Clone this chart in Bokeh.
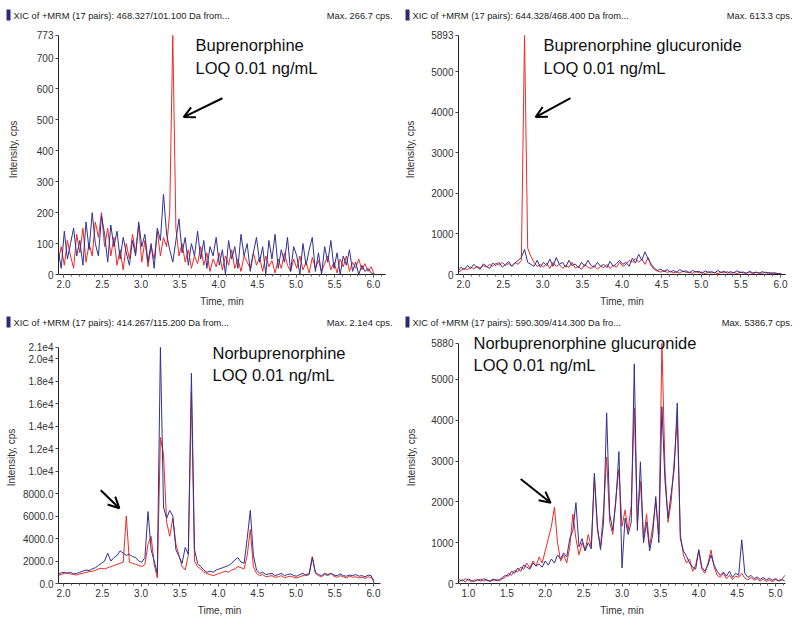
from bokeh.plotting import figure
from bokeh.models import (FixedTicker, SingleIntervalTicker, Label, Arrow, OpenHead,
                          Range1d, BoxAnnotation, NumeralTickFormatter)
from bokeh.layouts import column, row
from bokeh.embed import file_html
from bokeh.resources import INLINE

# ---------------- data ----------------
TIME_A = [1.93, 1.97, 2.01, 2.05, 2.09, 2.13, 2.17, 2.21, 2.25, 2.29,
          2.33, 2.37, 2.41, 2.45, 2.49, 2.53, 2.57, 2.61, 2.65, 2.69,
          2.73, 2.77, 2.81, 2.85, 2.89, 2.93, 2.97, 3.01, 3.05, 3.09,
          3.13, 3.17, 3.21, 3.25, 3.29, 3.33, 3.37, 3.41, 3.45, 3.49,
          3.53, 3.57, 3.61, 3.65, 3.69, 3.73, 3.77, 3.81, 3.85, 3.89,
          3.93, 3.97, 4.01, 4.05, 4.09, 4.13, 4.17, 4.21, 4.25, 4.29,
          4.33, 4.37, 4.41, 4.45, 4.49, 4.53, 4.57, 4.61, 4.65, 4.69,
          4.73, 4.77, 4.81, 4.85, 4.89, 4.93, 4.97, 5.01, 5.05, 5.09,
          5.13, 5.17, 5.21, 5.25, 5.29, 5.33, 5.37, 5.41, 5.45, 5.49,
          5.53, 5.57, 5.61, 5.65, 5.69, 5.73, 5.77, 5.81, 5.85, 5.89,
          5.93, 5.97, 6.01]

TIME_B = [0.88, 0.92, 0.96, 1.00, 1.04, 1.08, 1.12, 1.16, 1.20, 1.24,
          1.28, 1.32, 1.36, 1.40, 1.44, 1.48, 1.52, 1.56, 1.60, 1.64,
          1.68, 1.72, 1.76, 1.80, 1.84, 1.88, 1.92, 1.96, 2.00, 2.04,
          2.08, 2.12, 2.16, 2.20, 2.24, 2.28, 2.32, 2.36, 2.40, 2.44,
          2.48, 2.52, 2.56, 2.60, 2.64, 2.68, 2.72, 2.76, 2.80, 2.84,
          2.88, 2.92, 2.96, 3.00, 3.04, 3.08, 3.12, 3.16, 3.20, 3.24,
          3.28, 3.32, 3.36, 3.40, 3.44, 3.48, 3.52, 3.56, 3.60, 3.64,
          3.68, 3.72, 3.76, 3.80, 3.84, 3.88, 3.92, 3.96, 4.00, 4.04,
          4.08, 4.12, 4.16, 4.20, 4.24, 4.28, 4.32, 4.36, 4.40, 4.44,
          4.48, 4.52, 4.56, 4.60, 4.64, 4.68, 4.72, 4.76, 4.80, 4.84,
          4.88, 4.92, 4.96, 5.00, 5.04, 5.08, 5.12]

BUP_RED = [40, 90, 30, 110, 60, 20, 130, 70, 150, 40,
           100, 60, 170, 120, 200, 90, 150, 60, 120, 30,
           80, 15, 100, 50, 130, 70, 160, 40, 110, 25,
           90, 50, 140, 60, 120, 90, 200, 773, 150, 60,
           100, 40, 80, 20, 60, 35, 90, 30, 70, 10,
           50, 25, 70, 15, 60, 30, 80, 20, 50, 10,
           60, 40, 20, 70, 30, 55, 10, 60, 25, 45,
           5, 50, 20, 70, 30, 10, 50, 20, 60, 15,
           40, 5, 55, 20, 45, 10, 35, 60, 15, 40,
           5, 50, 25, 60, 10, 40, 20, 50, 15, 35,
           10, 25, 0]
BUP_BLUE = [80, 20, 140, 50, 100, 150, 60, 110, 30, 170,
            80, 200, 100, 60, 190, 130, 40, 160, 90, 140,
            50, 120, 70, 30, 110, 60, 170, 90, 130, 40,
            100, 20, 150, 110, 260, 130, 80, 40, 110, 180,
            70, 120, 30, 100, 60, 140, 50, 110, 20, 90,
            60, 120, 30, 80, 0, 110, 50, 90, 20, 130,
            60, 100, 10, 70, 120, 40, 90, 0, 110, 50,
            130, 20, 80, 40, 120, 10, 90, 60, 0, 100,
            30, 80, 120, 10, 70, 0, 90, 40, 110, 20,
            70, 0, 60, 30, 80, 10, 40, 0, 30, 10,
            20, 5, 0]

BUPG_RED = [50, 100, 150, 120, 180, 140, 200, 160, 220, 180,
            250, 200, 280, 230, 300, 220, 270, 210, 300, 250,
            350, 5893, 650, 450, 300, 200, 250, 180, 280, 150,
            300, 200, 250, 150, 220, 180, 300, 160, 200, 120,
            250, 180, 150, 220, 130, 200, 170, 250, 150, 230,
            180, 300, 200, 250, 350, 300, 400, 300, 380, 250,
            420, 200, 120, 80, 60, 100, 50, 80, 40, 70,
            30, 90, 50, 60, 30, 80, 40, 60, 20, 70,
            40, 50, 20, 60, 40, 70, 30, 50, 20, 60,
            40, 30, 60, 20, 50, 40, 30, 60, 20, 40,
            30, 20, 10]
BUPG_BLUE = [80, 180, 120, 220, 150, 250, 180, 130, 260, 200,
             150, 280, 220, 300, 180, 250, 320, 200, 280, 350,
             420, 620, 300, 250, 200, 350, 180, 300, 220, 380,
             200, 420, 250, 300, 180, 350, 220, 260, 170, 300,
             200, 350, 220, 180, 300, 200, 250, 170, 320, 200,
             270, 350, 250, 300, 200, 400, 280, 500, 350, 560,
             380, 250, 150, 100, 130, 70, 120, 60, 100, 50,
             120, 70, 90, 40, 100, 60, 80, 30, 90, 50,
             70, 40, 100, 50, 80, 30, 70, 40, 90, 50,
             60, 30, 80, 40, 60, 30, 70, 40, 50, 30,
             40, 20, 20]

NOR_RED = [700, 800, 900, 950, 850, 800, 750, 850, 900, 1000,
           1050, 1100, 1150, 1300, 1350, 1300, 1400, 1500, 1600, 1700,
           1800, 1900, 6000, 1900, 1800, 1700, 1600, 1500, 1700, 3500,
           4200, 1700, 500, 13000, 11500, 5500, 4200, 5800, 3500, 2500,
           1500, 1200, 2500, 17000, 2000, 1500, 1300, 1000, 900, 800,
           700, 800, 900, 1000, 1100, 1000, 1200, 1300, 1500, 1400,
           1300, 2500, 4800, 1500, 900, 700, 800, 600, 650, 700,
           550, 600, 700, 500, 600, 650, 550, 500, 600, 700,
           800, 900, 2400, 900, 700, 600, 800, 700, 900, 650,
           550, 700, 600, 500, 650, 550, 600, 500, 550, 450,
           600, 500, 300]
NOR_BLUE = [800, 950, 1000, 900, 1000, 850, 900, 1000, 1100, 1200,
            1150, 1300, 1400, 1600, 1800, 2000, 2700, 2000, 2300, 2500,
            2900, 2700, 2500, 2600, 2400, 2300, 2000, 1900, 2300, 6400,
            3000, 2000, 900, 21000, 6800, 5800, 6500, 6000, 3000, 2400,
            1800, 3200, 2600, 18700, 3000, 1800, 1500, 1200, 1000, 1100,
            1000, 1200, 1300, 1400, 1500, 1600, 1800, 2100, 2300, 1900,
            1800, 4000, 6500, 2500, 1200, 900, 1000, 800, 850, 900,
            700, 800, 900, 700, 800, 850, 700, 650, 800, 900,
            700, 800, 2300, 1000, 800, 700, 900, 800, 900, 750,
            700, 850, 700, 650, 750, 700, 800, 650, 700, 600,
            750, 700, 0]

NORG_RED = [100, 60, 120, 80, 40, 90, 70, 110, 60, 90,
            50, 80, 100, 60, 120, 150, 250, 200, 320, 280,
            400, 350, 500, 380, 550, 420, 650, 500, 800, 1100,
            1400, 1870, 1000, 550, 700, 500, 900, 1700, 1100, 700,
            1000, 800, 1200, 900, 2600, 1300, 900, 1800, 3100, 1500,
            1200, 2100, 2800, 1400, 1800, 1300, 1900, 4300, 1500, 2500,
            1100, 1700, 900, 1400, 2000, 1200, 5880, 2800, 1500, 2000,
            3000, 4000, 1200, 700, 500, 600, 300, 450, 800, 350,
            250, 500, 820, 400, 200, 150, 250, 120, 200, 100,
            180, 150, 250, 130, 90, 150, 80, 120, 60, 110,
            50, 90, 40, 100, 60, 80, 200]
NORG_BLUE = [50, 90, 40, 110, 70, 50, 100, 60, 120, 80,
             60, 110, 70, 90, 140, 200, 180, 300, 250, 380,
             300, 450, 400, 350, 500, 430, 480, 400, 550, 450,
             600, 500, 700, 600, 750, 650, 1100, 1300, 1980, 900,
             1100, 800, 1000, 850, 2700, 1400, 830, 1500, 4180, 1700,
             1300, 2000, 3230, 380, 1600, 1200, 1500, 5380, 1300, 2980,
             1000, 1500, 800, 1200, 2130, 1000, 4330, 2500, 1600, 2200,
             2800, 4420, 1100, 800, 670, 500, 400, 350, 830, 400,
             300, 450, 700, 450, 300, 200, 280, 180, 300, 150,
             250, 200, 1070, 250, 150, 200, 120, 160, 100, 150,
             90, 130, 80, 120, 70, 100, 60]

Y1_TICKS = [0, 100, 200, 300, 400, 500, 600, 700, 773]
Y1_LABELS = ["0", "100", "200", "300", "400", "500", "600", "700", "773"]
Y2_TICKS = [0, 1000, 2000, 3000, 4000, 5000, 5893]
Y2_LABELS = ["0", "1000", "2000", "3000", "4000", "5000", "5893"]
Y3_TICKS = [0, 2000, 4000, 6000, 8000, 10000, 12000, 14000, 16000, 18000, 20000, 21000]
Y3_LABELS = ["0.0", "2000.0", "4000.0", "6000.0", "8000.0", "1.0e4", "1.2e4",
             "1.4e4", "1.6e4", "1.8e4", "2.0e4", "2.1e4"]
Y4_TICKS = [0, 1000, 2000, 3000, 4000, 5000, 5880]
Y4_LABELS = ["0", "1000", "2000", "3000", "4000", "5000", "5880"]

HEADERS = ["XIC of +MRM (17 pairs): 468.327/101.100 Da  from...",
           "XIC of +MRM (17 pairs): 644.328/468.400 Da  from...",
           "XIC of +MRM (17 pairs): 414.267/115.200 Da  from...",
           "XIC of +MRM (17 pairs): 590.309/414.300 Da  fro..."]
MAXES = ["Max. 266.7 cps.", "Max. 613.3 cps.", "Max. 2.1e4 cps.", "Max. 5386.7 cps."]
NAMES = ["Buprenorphine", "Buprenorphine glucuronide",
         "Norbuprenorphine", "Norbuprenorphine glucuronide"]
LOQ = "LOQ 0.01 ng/mL"

# ---------------- style ----------------
RED = "#ee2a24"
BLUE = "#2f3192"
FONT = "Liberation Sans"
W = 399
ROW_H = 309
BOTTOM = 34


def header(text, maxtxt, hh, sq_x, right_x):
    h = figure(width=W, height=hh, output_backend="svg", toolbar_location=None,
               x_range=Range1d(0, W), y_range=Range1d(0, hh),
               x_axis_location=None, y_axis_location=None,
               min_border_left=0, min_border_right=0, min_border_top=0, min_border_bottom=0)
    h.frame_align = False
    h.outline_line_color = None
    h.grid.visible = False
    h.border_fill_color = "white"
    cy = hh - (15 if hh > 23 else 13)
    h.add_layout(BoxAnnotation(left=sq_x, right=sq_x + 4, bottom=cy - 5, top=cy + 6,
                               left_units="screen", right_units="screen",
                               bottom_units="screen", top_units="screen",
                               fill_color="#2c2a78", fill_alpha=1, line_color=None))
    h.add_layout(Label(x=sq_x + 7, y=cy, x_units="screen", y_units="screen",
                       text=text, text_font=FONT, text_font_size="9.3px",
                       text_color="#222222", text_baseline="middle", text_align="left"))
    h.add_layout(Label(x=right_x, y=cy, x_units="screen", y_units="screen",
                       text=maxtxt, text_font=FONT, text_font_size="9.3px",
                       text_color="#222222", text_baseline="middle", text_align="right"))
    return h


def panel(times, red, blue, xr, yt, yl, hh, extra, name, name_xy, loq_y,
          arrow, left, right, lab_standoff):
    ymax = yt[-1]
    h = ROW_H - hh
    fh = h - BOTTOM
    dh = fh - extra
    p = figure(width=W, height=h, output_backend="svg", toolbar_location=None,
               x_range=Range1d(*xr), y_range=Range1d(0, ymax * fh / dh),
               min_border_left=left, min_border_right=right,
               min_border_top=0, min_border_bottom=BOTTOM)
    p.frame_align = False
    p.outline_line_color = None
    p.grid.visible = False
    p.border_fill_color = "white"
    p.background_fill_color = "white"

    p.line(times, red, line_color=RED, line_width=1)
    p.line(times, blue, line_color=BLUE, line_width=1)

    xa = p.xaxis[0]
    xa.ticker = SingleIntervalTicker(interval=0.5, num_minor_ticks=5)
    xa.formatter = NumeralTickFormatter(format="0.0")
    xa.axis_label = "Time, min"
    xa.axis_label_standoff = 5
    ya = p.yaxis[0]
    ya.ticker = FixedTicker(ticks=yt)
    ya.major_label_overrides = {t: l for t, l in zip(yt, yl)}
    ya.axis_label = "Intensity, cps"
    ya.axis_label_standoff = lab_standoff
    ya.bounds = (0, ymax)
    for ax in (xa, ya):
        ax.axis_line_color = "#222222"
        ax.major_tick_line_color = "#444444"
        ax.minor_tick_line_color = "#666666"
        ax.major_tick_out = 3
        ax.major_tick_in = 0
        ax.minor_tick_out = 2
        ax.minor_tick_in = 0
        ax.major_label_standoff = 2
        ax.major_label_text_font = FONT
        ax.major_label_text_font_size = "10px"
        ax.major_label_text_color = "#333333"
        ax.axis_label_text_font = FONT
        ax.axis_label_text_font_size = "10px"
        ax.axis_label_text_font_style = "normal"
        ax.axis_label_text_color = "#333333"

    p.add_layout(Label(x=name_xy[0], y=name_xy[1], x_units="screen", y_units="screen",
                       text=name, text_font=FONT, text_font_size="16.5px",
                       text_color="#111111", text_baseline="middle", text_align="left"))
    p.add_layout(Label(x=name_xy[0], y=loq_y, x_units="screen", y_units="screen",
                       text=LOQ, text_font=FONT, text_font_size="16.5px",
                       text_color="#111111", text_baseline="middle", text_align="left"))

    x0, y0, x1, y1 = arrow
    p.add_layout(Arrow(end=OpenHead(size=11, line_width=2, line_color="black"),
                       x_start=x0, y_start=y0, x_end=x1, y_end=y1,
                       line_width=2, line_color="black"))
    return p


h1 = header(HEADERS[0], MAXES[0], 24, 6, 392)
h2 = header(HEADERS[1], MAXES[1], 24, 6, 393)
h3 = header(HEADERS[2], MAXES[2], 22, 6, 392)
h4 = header(HEADERS[3], MAXES[3], 22, 6, 393)

p1 = panel(TIME_A, BUP_RED, BUP_BLUE, (1.935, 6.155), Y1_TICKS, Y1_LABELS, 24, 11,
           NAMES[0], (137, 230), 207, (4.05, 570, 3.55, 509), 58, 14, 15)
p2 = panel(TIME_A, BUPG_RED, BUPG_BLUE, (1.937, 6.063), Y2_TICKS, Y2_LABELS, 24, 11,
           NAMES[1], (85, 230), 207, (3.35, 4346, 2.91, 3880), 59, 13, 12)
p3 = panel(TIME_A, NOR_RED, NOR_BLUE, (1.935, 6.09), Y3_TICKS, Y3_LABELS, 22, 16,
           NAMES[2], (154, 231), 209, (2.48, 8290, 2.72, 6700), 58, 19, 3)
p4 = panel(TIME_B, NORG_RED, NORG_BLUE, (0.87, 5.13), Y4_TICKS, Y4_LABELS, 22, 12,
           NAMES[3], (15, 241), 219, (1.68, 2560, 2.07, 1976), 59, 13, 11)

layout = column(row(column(h1, p1), column(h2, p2)),
                row(column(h3, p3), column(h4, p4)))

with open("out.html", "w") as f:
    f.write(file_html(layout, INLINE))
